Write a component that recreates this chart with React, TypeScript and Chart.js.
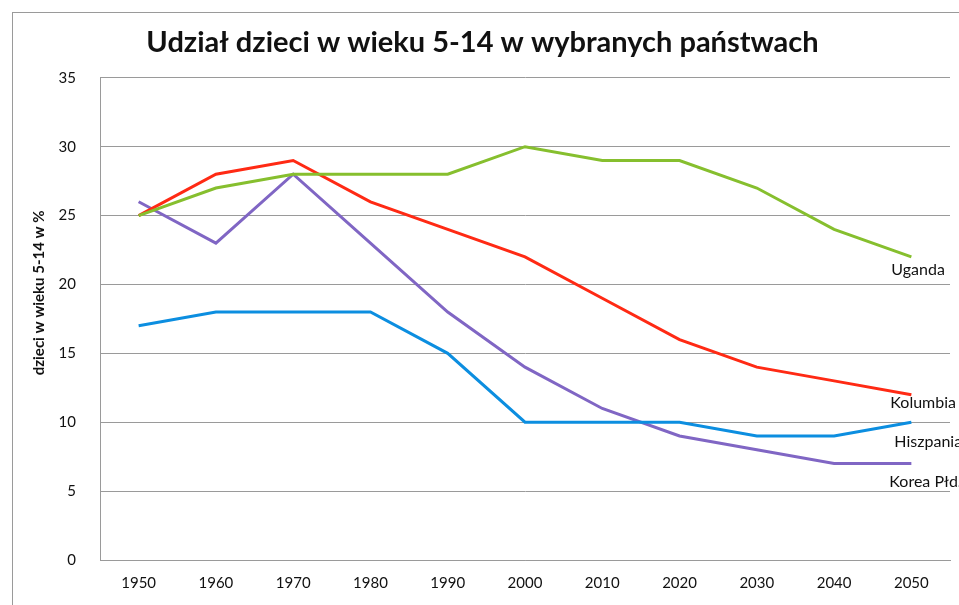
import React, { useEffect, useRef } from "react";
import { Chart, registerables } from "chart.js";

Chart.register(...registerables);

const years = ["1950", "1960", "1970", "1980", "1990", "2000", "2010", "2020", "2030", "2040", "2050"];
const uganda = [25, 27, 28, 28, 28, 30, 29, 29, 27, 24, 22];
const kolumbia = [25, 28, 29, 26, 24, 22, 19, 16, 14, 13, 12];
const hiszpania = [17, 18, 18, 18, 15, 10, 10, 10, 9, 9, 10];
const korea = [26, 23, 28, 23, 18, 14, 11, 9, 8, 7, 7];
const seriesNames = ["Uganda", "Kolumbia", "Hiszpania", "Korea Płd."];
const titleText = "Udział dzieci w wieku 5-14 w wybranych państwach";
const yAxisTitle = "dzieci w wieku 5-14 w %";

const FONT = "Lato, 'Open Sans', sans-serif";

const extraText = {
  id: "extraText",
  afterDatasetsDraw(chart: any) {
    const ctx = chart.ctx;
    const xs = chart.scales.x;
    const ys = chart.scales.y;
    ctx.save();
    ctx.font = "16px " + FONT;
    ctx.fillStyle = "#111";
    ctx.textBaseline = "middle";
    ctx.textAlign = "left";
    chart.data.datasets.forEach((ds: any) => {
      const n = ds.data.length - 1;
      const x = xs.getPixelForValue(n) + ds.labelDx;
      const y = ys.getPixelForValue(ds.data[n]) + ds.labelDy;
      ctx.fillText(ds.label, x, y);
    });
    // y axis title
    ctx.font = "bold 15px " + FONT;
    ctx.textAlign = "center";
    ctx.translate(39, (chart.chartArea.top + chart.chartArea.bottom) / 2 - 26);
    ctx.rotate(-Math.PI / 2);
    ctx.fillText(yAxisTitle, 0, 0);
    ctx.restore();
  },
};

export default function App() {
  const ref = useRef<HTMLCanvasElement | null>(null);
  useEffect(() => {
    if (!ref.current) return;
    const chart = new Chart(ref.current, {
      type: "line",
      data: {
        labels: years,
        datasets: [
          { label: seriesNames[0], data: uganda, borderColor: "#86bf2e", labelDx: -20, labelDy: 13 },
          { label: seriesNames[1], data: kolumbia, borderColor: "#ff2a14", labelDx: -21, labelDy: 8 },
          { label: seriesNames[2], data: hiszpania, borderColor: "#0c8ee0", labelDx: -17, labelDy: 20 },
          { label: seriesNames[3], data: korea, borderColor: "#8066c4", labelDx: -22, labelDy: 18 },
        ].map((d: any) => ({ ...d, borderWidth: 3, pointRadius: 0, tension: 0, fill: false })),
      },
      options: {
        animation: false,
        responsive: false,
        layout: { padding: { left: 15, right: 9, top: 0, bottom: 0 } },
        plugins: {
          legend: { display: false },
          tooltip: { enabled: false },
          title: {
            display: true,
            text: titleText,
            color: "#111",
            font: { family: FONT, size: 29, weight: "bold" },
            padding: { top: 25, bottom: 18 },
          },
        },
        scales: {
          x: {
            offset: true,
            grid: { display: false, drawTicks: false },
            border: { display: true, color: "#9a9a9a", width: 1 },
            ticks: { color: "#111", font: { family: FONT, size: 15 }, padding: 14, maxRotation: 0 },
            afterFit: (s: any) => { s.height = 45; },
          },
          y: {
            min: 0,
            max: 35,
            grid: { color: "#9a9a9a", drawTicks: false, lineWidth: 1 },
            border: { display: true, color: "#9a9a9a", width: 1 },
            ticks: { stepSize: 5, color: "#111", font: { family: FONT, size: 15 }, padding: 24 },
            afterFit: (s: any) => { s.width = 85; },
          },
        },
      },
      plugins: [extraText],
    } as any);
    return () => chart.destroy();
  }, []);

  return (
    <div style={{ position: "fixed", left: 0, top: 0, width: 959, height: 605, background: "#fff" }}>
      <canvas ref={ref} width={959} height={605} style={{ position: "absolute", left: 0, top: 0 }} />
      <div
        style={{
          position: "absolute",
          left: 12,
          top: 12,
          width: 960,
          height: 600,
          border: "1px solid #9a9a9a",
          pointerEvents: "none",
        }}
      />
    </div>
  );
}
